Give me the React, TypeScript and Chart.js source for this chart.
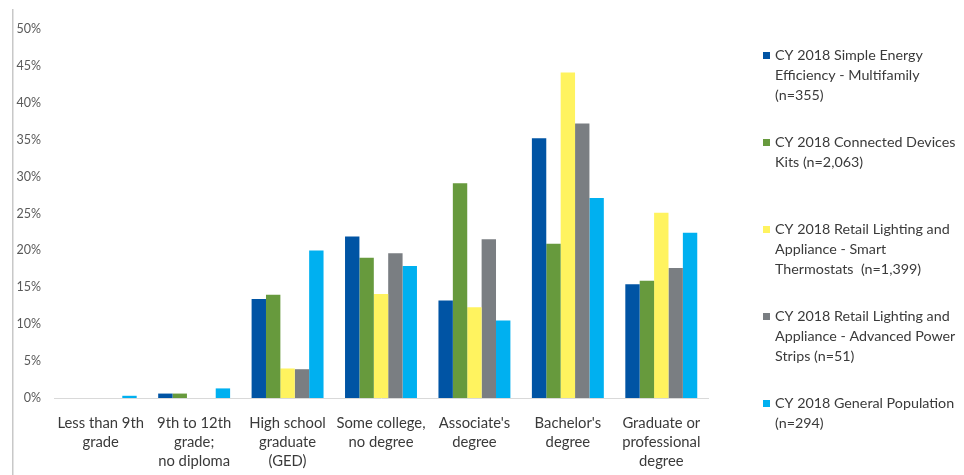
import React, { useEffect, useRef } from "react";
import { Chart, registerables } from "chart.js";

Chart.register(...registerables);

const categories: string[][] = [
  ["Less than 9th", "grade"],
  ["9th to 12th", "grade;", "no diploma"],
  ["High school", "graduate", "(GED)"],
  ["Some college,", "no degree"],
  ["Associate's", "degree"],
  ["Bachelor's", "degree"],
  ["Graduate or", "professional", "degree"],
];

const seriesNames: string[][] = [
  ["CY 2018 Simple Energy", "Efficiency - Multifamily", "(n=355)"],
  ["CY 2018 Connected Devices", "Kits (n=2,063)"],
  ["CY 2018 Retail Lighting and", "Appliance - Smart", "Thermostats  (n=1,399)"],
  ["CY 2018 Retail Lighting and", "Appliance - Advanced Power", "Strips (n=51)"],
  ["CY 2018 General Population", "(n=294)"],
];

const simpleEnergyMultifamily = [0, 0.6, 13.4, 21.9, 13.2, 35.2, 15.4];
const connectedDevicesKits = [0, 0.6, 14.0, 19.0, 29.1, 20.9, 15.9];
const smartThermostats = [0, 0, 4.0, 14.1, 12.3, 44.1, 25.1];
const advancedPowerStrips = [0, 0, 3.9, 19.6, 21.5, 37.2, 17.6];
const generalPopulation = [0.3, 1.3, 20.0, 17.9, 10.5, 27.1, 22.4];

const seriesColors = ["#0054A4", "#679A3D", "#FFF35F", "#7A7E82", "#00B0F0"];

const yTicks = [0, 5, 10, 15, 20, 25, 30, 35, 40, 45, 50];

const FONT = "Lato, 'Open Sans', sans-serif";

// Draws the wrapped legend entries to the right of the plot and the thin frame line on the left.
const sideDecor = {
  id: "sideDecor",
  afterDraw(chart: Chart) {
    const ctx = chart.ctx;
    ctx.save();
    ctx.fillStyle = "#c8c8c8";
    ctx.fillRect(12, 9, 1.5, chart.height - 9);

    const x0 = 763;
    const firstY = 55.5;
    const step = 87;
    const lineH = 20;
    ctx.font = `14.3px ${FONT}`;
    ctx.textBaseline = "middle";
    ctx.textAlign = "left";
    chart.data.datasets.forEach((ds: any, i: number) => {
      const y = firstY + i * step;
      ctx.fillStyle = ds.backgroundColor as string;
      ctx.fillRect(x0, y - 3.5, 7, 7);
      ctx.fillStyle = "#3a3a3a";
      (seriesNames[i] || []).forEach((line, j) => {
        ctx.fillText(line, x0 + 12, y + j * lineH);
      });
    });
    ctx.restore();
  },
};

export default function App() {
  const canvasRef = useRef<HTMLCanvasElement | null>(null);

  useEffect(() => {
    document.body.style.margin = "0";
    const canvas = canvasRef.current;
    if (!canvas) return;
    const series = [
      simpleEnergyMultifamily,
      connectedDevicesKits,
      smartThermostats,
      advancedPowerStrips,
      generalPopulation,
    ];
    const chart = new Chart(canvas, {
      type: "bar",
      data: {
        labels: categories,
        datasets: series.map((values, i) => ({
          label: seriesNames[i].join(" "),
          data: values,
          backgroundColor: seriesColors[i],
          borderWidth: 0,
          categoryPercentage: 0.77,
          barPercentage: 1,
        })),
      },
      options: {
        animation: false,
        responsive: false,
        maintainAspectRatio: false,
        layout: { padding: { top: 29, right: 256, bottom: 0, left: 0 } },
        plugins: {
          legend: { display: false },
          tooltip: { enabled: false },
        },
        scales: {
          x: {
            grid: { display: false },
            border: { display: true, color: "#d9d9d9", width: 1 },
            ticks: {
              color: "#3a3a3a",
              font: { family: FONT, size: 14.8, lineHeight: 1.28 },
              padding: 7.5,
              maxRotation: 0,
              autoSkip: false,
            },
            afterFit(scale: any) {
              scale.height = 77;
            },
          },
          y: {
            min: 0,
            max: 50,
            grid: { display: false, drawTicks: false },
            border: { display: false },
            afterBuildTicks(scale: any) {
              scale.ticks = yTicks.map((v) => ({ value: v }));
            },
            ticks: {
              color: "#595959",
              font: { family: FONT, size: 12.5 },
              padding: 13,
              callback: (v: any) => `${v}%`,
            },
            afterFit(scale: any) {
              scale.width = 54;
            },
          },
        },
      },
      plugins: [sideDecor],
    });
    return () => chart.destroy();
  }, []);

  return (
    <div style={{ position: "fixed", left: 0, top: 0, width: 964, height: 475, background: "#fff" }}>
      <canvas ref={canvasRef} width={964} height={475} style={{ width: 964, height: 475 }} />
    </div>
  );
}
